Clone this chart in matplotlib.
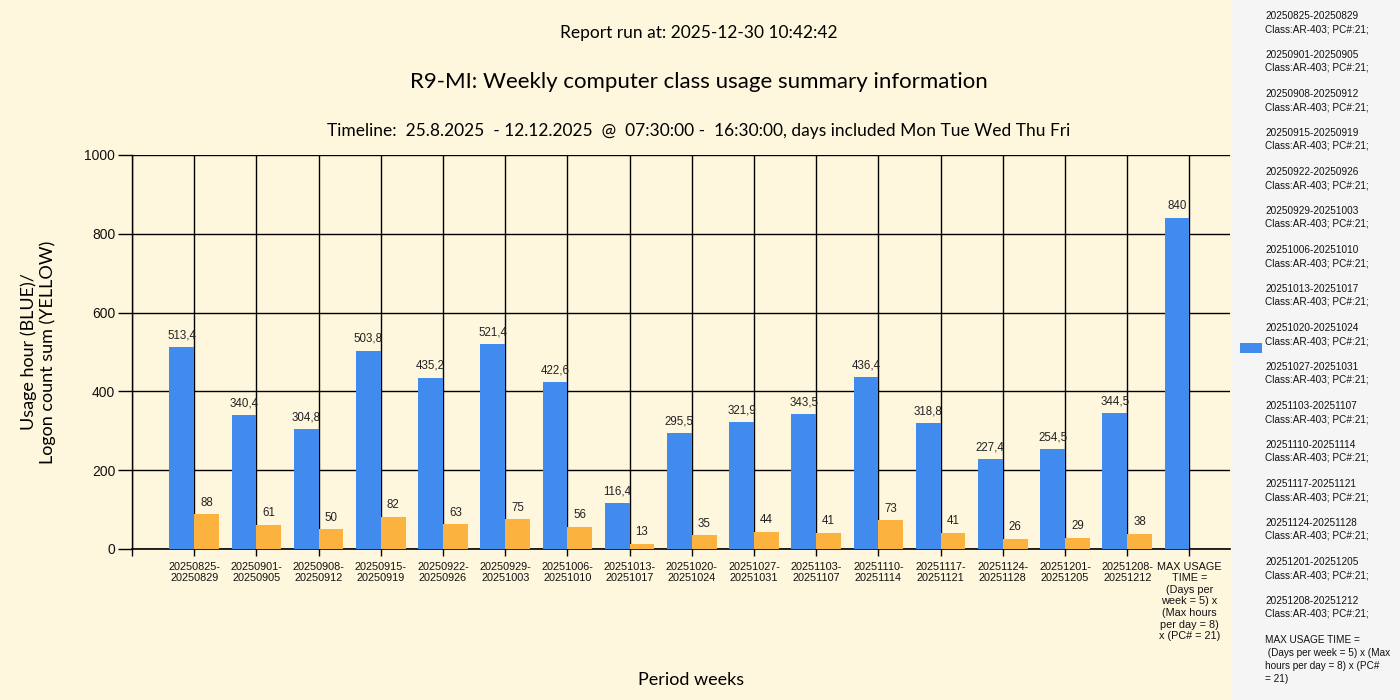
import matplotlib
matplotlib.use("Agg")
import matplotlib.pyplot as plt
from matplotlib.patches import Rectangle

weeks = ["20250825-20250829", "20250901-20250905", "20250908-20250912", "20250915-20250919",
         "20250922-20250926", "20250929-20251003", "20251006-20251010", "20251013-20251017",
         "20251020-20251024", "20251027-20251031", "20251103-20251107", "20251110-20251114",
         "20251117-20251121", "20251124-20251128", "20251201-20251205", "20251208-20251212"]
usage_hours = [513.4, 340.4, 304.8, 503.8, 435.2, 521.4, 422.6, 116.4, 295.5, 321.9,
               343.5, 436.4, 318.8, 227.4, 254.5, 344.5]
logon_counts = [88, 61, 50, 82, 63, 75, 56, 13, 35, 44, 41, 73, 41, 26, 29, 38]
max_usage = 840
max_label_tick = "MAX USAGE\nTIME =\n(Days per\nweek = 5) x\n(Max hours\nper day = 8)\nx (PC# = 21)"
max_label_legend = "MAX USAGE TIME =\n (Days per week = 5) x (Max\nhours per day = 8) x (PC#\n= 21)"
class_info = "Class:AR-403; PC#:21;"
y_ticks = [0, 200, 400, 600, 800, 1000]

BG = "#FFF7DD"
BLUE = "#418AEE"
ORANGE = "#FBB23E"
TITLE_FONT = "Lato"
SMALL_FONT = "Liberation Sans"

fig = plt.figure(figsize=(14, 7), dpi=100, facecolor=BG)
ax = fig.add_axes([132/1400, (700-549)/700, (1230-132)/1400, (549-155)/700])
ax.set_facecolor(BG)

n = len(weeks)
pos = list(range(1, n + 1))
w = 0.4
bars_b = ax.bar([p - w for p in pos] + [n + 1 - w], usage_hours + [max_usage], width=w,
                align="edge", color=BLUE, zorder=3)
bars_o = ax.bar(pos, logon_counts, width=w, align="edge", color=ORANGE, zorder=3)

def fmt(v):
    if float(v).is_integer():
        return str(int(v))
    return ("%.1f" % v).replace(".", ",")

for b, v in zip(bars_b, usage_hours + [max_usage]):
    ax.annotate(fmt(v), (b.get_x() + b.get_width()/2, b.get_height()), xytext=(0, 4),
                textcoords="offset points", ha="center", va="bottom",
                fontsize=8.3, family=SMALL_FONT, color="#222222", zorder=4)
for b, v in zip(bars_o, logon_counts):
    ax.annotate(fmt(v), (b.get_x() + b.get_width()/2, b.get_height()), xytext=(0, 4),
                textcoords="offset points", ha="center", va="bottom",
                fontsize=8.3, family=SMALL_FONT, color="#222222", zorder=4)

ax.set_xlim(0, (1230-132)/62.2)
ax.set_ylim(0, 1000)
ax.set_yticks(y_ticks)
ax.set_yticklabels([str(t) for t in y_ticks], fontsize=10, family=SMALL_FONT, color="#111111")
ax.set_xticks([0] + pos + [n + 1])
ax.set_xticklabels([""] + [wk.replace("-", "-\n") for wk in weeks] + [max_label_tick],
                   fontsize=7.8, family=SMALL_FONT, color="#111111", linespacing=1.2,
                   va="top")
ax.tick_params(axis="y", length=10, width=1, direction="out", pad=2, color="black")
ax.tick_params(axis="x", length=5, width=1, direction="out", pad=4, color="black")
ax.grid(True, color="black", linewidth=1, zorder=1)
for s in ["top", "right"]:
    ax.spines[s].set_visible(False)
ax.spines["left"].set_linewidth(1)
ax.spines["bottom"].set_linewidth(1.2)
ax.set_axisbelow(True)

# Titles
fig.text(699/1400, 1 - 33/700, "Report run at: 2025-12-30 10:42:42", ha="center", va="center",
         fontsize=12.5, family=TITLE_FONT, color="black")
fig.text(699/1400, 1 - 82/700, "R9-MI: Weekly computer class usage summary information",
         ha="center", va="center", fontsize=16, family=TITLE_FONT, color="black")
fig.text(699/1400, 1 - 131/700,
         "Timeline:  25.8.2025  - 12.12.2025  @  07:30:00 -  16:30:00, days included Mon Tue Wed Thu Fri",
         ha="center", va="center", fontsize=12.5, family=TITLE_FONT, color="black")
fig.text(691/1400, 1 - 680/700, "Period weeks", ha="center", va="center",
         fontsize=13, family=TITLE_FONT, color="black")
fig.text(38/1400, 1 - 352/700, "Usage hour (BLUE)/\nLogon count sum (YELLOW)", ha="center",
         va="center", rotation=90, fontsize=13, family=TITLE_FONT, color="black",
         linespacing=1.2)

# Legend pane
fig.patches.append(Rectangle((1232/1400, 0), 168/1400, 1, transform=fig.transFigure,
                             facecolor="#F5F5F5", edgecolor="none", zorder=0))
fig.patches.append(Rectangle((1240/1400, 1 - 353/700), 22/1400, 10/700, transform=fig.transFigure,
                             facecolor=BLUE, edgecolor="none", zorder=1))
legend_lines = []
for wk in weeks:
    legend_lines += [wk, class_info, ""]
legend_lines += max_label_legend.split("\n")
fig.text(1265/1400, 1 - 11/700, "\n".join(legend_lines), ha="left", va="top",
         fontsize=7.2, family=SMALL_FONT, color="#111111", linespacing=1.375)

fig.savefig("out.png", dpi=100, facecolor=BG)
